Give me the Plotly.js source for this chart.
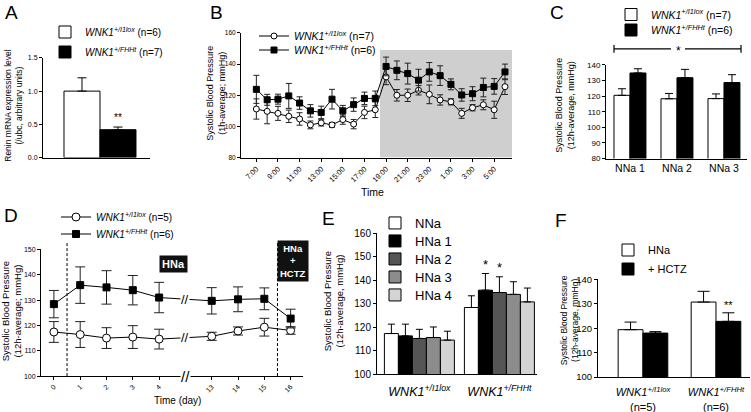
<!DOCTYPE html>
<html>
<head>
<meta charset="utf-8">
<script src="https://cdn.plot.ly/plotly-3.0.1.min.js"></script>
<style>html,body{margin:0;padding:0;background:#fff}#fig{width:751px;height:412px}</style>
</head>
<body>
<div id="fig"></div>
<script>
const W = 751, H = 412;
const FONT = 'Liberation Sans, Arial, sans-serif';

// A: renin mRNA (/ubc)
const reninFl = [1.0], reninFlErr = [0.2];
const reninFh = [0.42], reninFhErr = [0.04];

// B: 1h-average systolic BP over 24 h
const hours = ['7:00','8:00','9:00','10:00','11:00','12:00','13:00','14:00','15:00','16:00','17:00','18:00',
  '19:00','20:00','21:00','22:00','23:00','0:00','1:00','2:00','3:00','4:00','5:00','6:00'];
const hourTicks = ['7:00','9:00','11:00','13:00','15:00','17:00','19:00','21:00','23:00','1:00','3:00','5:00'];
const bFl = [111.2,109.7,108.4,106.5,104.8,101,102.3,101,104.4,101.5,109,110.7,131.8,120,120,123.2,120.6,117,115.8,108.4,112,113.9,110.7,125.5];
const bFlErr = [6.5,8,4.5,4,4,2.5,2,1.5,3,3,4,5,5,3.7,4,3,6,3.3,2,3.2,2,3.2,5.5,5];
const bFh = [123.8,117.1,117.5,119.6,115,110,109,117.5,110,114,118,118,138.5,136,133.9,129.7,135,132.6,127,120.2,121,125,125.7,135];
const bFhErr = [9,3.5,3.2,8,4,4,4,6.3,3.5,4.3,4,4.7,6,6,6.7,7,6,6.3,3.5,4,4.5,6,5,5];

// C: 12h-average, normal Na diet
const nnaDays = ['NNa 1','NNa 2','NNa 3'];
const cFl = [120.5,118.3,118.4], cFlErr = [4.2,3.4,3];
const cFh = [134.8,131.8,128.7], cFhErr = [2.7,5.3,5];

// D: time course on high Na, then HCTZ
const days = ['0','1','2','3','4','13','14','15','16'];
const dayAxis = ['0','1','2','3','4','gap','13','14','15','16'];
const dFl = [117.4,116.4,115,115.4,114.6,115.7,117.8,119.3,118];
const dFlErr = [4.1,5.1,4.1,4.5,3.9,1.6,1.6,3.5,1.5];
const dFh = [128.4,135.9,135,133.9,131,129.7,130.3,130.5,122.7];
const dFhErr = [5.4,7.2,6.6,5.8,6,5.2,4.9,4.3,3.7];

// E: NNa vs HNa 1-4, per genotype
const genotypes = ['<i>WNK1</i><sup><i>+/I1lox</i></sup>', '<i>WNK1</i><sup><i>+/FHHt</i></sup>'];
const diets = ['NNa','HNa 1','HNa 2','HNa 3','HNa 4'];
const dietColors = ['#ffffff','#000000','#555555','#8c8c8c','#d4d4d4'];
const eFl = [117.3,116.3,115.2,115.6,114.5], eFlErr = [4,5,3.9,4.5,3.8];
const eFh = [128.4,135.8,134.8,134,130.8], eFhErr = [5,7.1,6.7,5.4,5.9];

// F: HNa vs HNa + HCTZ
const fGroups = ['<i>WNK1</i><sup><i>+/I1lox</i></sup><br>(n=5)', '<i>WNK1</i><sup><i>+/FHHt</i></sup><br>(n=6)'];
const fHNa = [119.4,130.7], fHNaErr = [3.1,4.4];
const fHctz = [118,122.8], fHctzErr = [0.6,3.5];

const fx = x => x / W;
const fy = y => 1 - y / H;
const flName = n => `<i>WNK1</i><sup><i>+/I1lox</i></sup> (n=${n})`;
const fhName = n => `<i>WNK1</i><sup><i>+/FHHt</i></sup> (n=${n})`;

function bar(x, y, err, axn, color, width, offset, leg, name, cap) {
  return {
    type: 'bar', x: x, y: y, xaxis: 'x' + axn, yaxis: 'y' + axn,
    width: width, offset: offset, name: name, legend: leg,
    marker: {color: color, line: {color: '#000', width: 1}},
    error_y: {type: 'data', array: err, arrayminus: err.map(() => 0), symmetric: false,
      color: '#000', thickness: 1, width: cap},
    hoverinfo: 'skip'
  };
}

function line(x, y, err, axn, symbol, fill, size, leg, name, cap) {
  return {
    type: 'scatter', mode: 'lines+markers', x: x, y: y, xaxis: 'x' + axn, yaxis: 'y' + axn,
    name: name, legend: leg,
    line: {color: '#000', width: 1},
    marker: {symbol: symbol, size: size, color: fill, line: {color: '#000', width: 1}},
    error_y: {type: 'data', array: err, color: '#222', thickness: 1, width: cap},
    hoverinfo: 'skip'
  };
}

const traces = [
  bar([0], reninFl, reninFlErr, '', '#fff', 1, -1, 'legend', flName(6), 4.5),
  bar([0], reninFh, reninFhErr, '', '#000', 1, 0, 'legend2', fhName(7), 4.5),

  line(hours, bFl, bFlErr, '2', 'circle', '#fff', 6, 'legend3', flName(7), 3),
  line(hours, bFh, bFhErr, '2', 'square', '#000', 6, 'legend4', fhName(6), 3),

  bar(nnaDays, cFl, cFlErr, '3', '#fff', 0.34, -0.34, 'legend5', flName(7), 4),
  bar(nnaDays, cFh, cFhErr, '3', '#000', 0.34, 0, 'legend6', fhName(6), 4),

  line(days, dFl, dFlErr, '4', 'circle', '#fff', 8, 'legend7', flName(5), 5),
  line(days, dFh, dFhErr, '4', 'square', '#000', 7, 'legend8', fhName(6), 5)
];

const ew = 0.175;
diets.forEach((d, i) => {
  traces.push(bar(genotypes, [eFl[i], eFh[i]], [eFlErr[i], eFhErr[i]], '5', dietColors[i],
    ew, -2.5 * ew + i * ew, 'legend' + (9 + i), d, 3.5));
});

traces.push(bar(fGroups, fHNa, fHNaErr, '6', '#fff', 0.34, -0.34, 'legend14', 'HNa', 6));
traces.push(bar(fGroups, fHctz, fHctzErr, '6', '#000', 0.34, 0, 'legend15', '+ HCTZ', 6));

function ax(dom, extra) {
  return Object.assign({
    domain: dom, showline: true, linecolor: '#000', linewidth: 1,
    ticks: 'outside', ticklen: 3, tickwidth: 1, tickcolor: '#000',
    showgrid: false, zeroline: false, fixedrange: true,
    tickfont: {family: FONT, size: 7, color: '#000'}
  }, extra);
}

// symX: where the legend swatch should sit (the label follows ~20px to its right)
function legendAt(symX, ypx, size) {
  return {x: fx(symX - 24), y: fy(ypx), xanchor: 'left', yanchor: 'middle',
    bgcolor: 'rgba(0,0,0,0)', borderwidth: 0, itemclick: false, itemdoubleclick: false,
    font: {family: FONT, size: size, color: '#000'}};
}

function note(text, xpx, ypx, size, extra) {
  return Object.assign({text: text, xref: 'paper', yref: 'paper', x: fx(xpx), y: fy(ypx),
    showarrow: false, xanchor: 'center', yanchor: 'middle',
    font: {family: FONT, size: size, color: '#000'}}, extra || {});
}

function ytitle(text, xpx, ypx, size) {
  return note(text, xpx, ypx, size, {textangle: -90});
}

const annotations = [
  note('A', 11, 12, 19), note('B', 217, 12, 19), note('C', 557, 12, 19),
  note('D', 11, 215, 19), note('E', 328, 218, 19), note('F', 561, 220, 19),

  ytitle('Renin mRNA expression level<br>(/ubc, arbitrary units)', 14, 105, 8.5),
  ytitle('Systolic Blood Pressure<br>(1h-average; mmHg)', 216, 93, 9),
  ytitle('Systolic Blood Pressure<br>(12h-average, mmHg)', 565, 105, 9),
  ytitle('Systolic Blood Pressure<br>(12h-average; mmHg)', 11, 311, 9.5),
  ytitle('Systolic Blood Pressure<br>(12h-average, mmHg)', 333, 301, 9.5),
  ytitle('Systolic Blood Pressure<br>(12h-average, mmHg)', 569, 320, 8.5),

  note('Time', 372, 191, 10.5),
  note('Time (day)', 177, 400, 10),

  // significance marks
  {text: '**', xref: 'x', yref: 'y', x: 0.5, y: reninFh[0] + reninFhErr[0] + 0.03, yanchor: 'bottom',
    showarrow: false, font: {family: FONT, size: 10}},
  note('*', 678, 50, 12),
  {text: '*', xref: 'x5', yref: 'y5', x: 1 - ew, y: eFh[1] + eFhErr[1], yanchor: 'bottom',
    showarrow: false, font: {family: FONT, size: 13}},
  {text: '*', xref: 'x5', yref: 'y5', x: 1, y: eFh[2] + eFhErr[2], yanchor: 'bottom',
    showarrow: false, font: {family: FONT, size: 13}},
  {text: '**', xref: 'x6', yref: 'y6', x: 1 + 0.17, y: fHctz[1] + fHctzErr[1], yanchor: 'bottom',
    showarrow: false, font: {family: FONT, size: 11}},

  // diet boxes in D
  note('<b>HNa</b>', 173, 264, 11, {bgcolor: '#111', font: {family: FONT, size: 11, color: '#fff'}, borderpad: 2}),
  note('<b>HNa<br>+<br>HCTZ</b>', 293, 261, 9.5, {bgcolor: '#111', font: {family: FONT, size: 9.5, color: '#fff'}, borderpad: 2}),

  // axis break marks in D
  {text: '//', xref: 'x4', yref: 'y4', x: 5, y: (dFh[4] + dFh[5]) / 2, showarrow: false,
    bgcolor: '#fff', borderpad: 0, font: {family: FONT, size: 13}},
  {text: '//', xref: 'x4', yref: 'y4', x: 5, y: (dFl[4] + dFl[5]) / 2, showarrow: false,
    bgcolor: '#fff', borderpad: 0, font: {family: FONT, size: 13}},
  {text: '//', xref: 'x4', yref: 'y4', x: 5, y: 100, showarrow: false,
    bgcolor: '#fff', borderpad: 0, font: {family: FONT, size: 15}}
];

const bracket = {color: '#000', width: 1.2};
const shapes = [
  // dark period in B
  {type: 'rect', xref: 'x2', yref: 'y2', x0: 11.44, x1: 23.65, y0: 80, y1: 149,
    fillcolor: '#cfcfcf', line: {width: 0}, layer: 'below'},
  // bracket in C, open around the star
  {type: 'line', xref: 'paper', yref: 'paper', x0: fx(614), x1: fx(671), y0: fy(48), y1: fy(48), line: bracket},
  {type: 'line', xref: 'paper', yref: 'paper', x0: fx(685), x1: fx(741), y0: fy(48), y1: fy(48), line: bracket},
  {type: 'line', xref: 'paper', yref: 'paper', x0: fx(614), x1: fx(614), y0: fy(44), y1: fy(52), line: bracket},
  {type: 'line', xref: 'paper', yref: 'paper', x0: fx(741), x1: fx(741), y0: fy(44), y1: fy(52), line: bracket},
  // diet switches in D
  {type: 'line', xref: 'x4', yref: 'paper', x0: 0.5, x1: 0.5, y0: fy(376), y1: fy(242), line: {color: '#000', width: 1, dash: '3px,2px'}},
  {type: 'line', xref: 'x4', yref: 'paper', x0: 8.5, x1: 8.5, y0: fy(376), y1: fy(242), line: {color: '#000', width: 1, dash: '3px,2px'}}
];

const layout = {
  width: W, height: H, margin: {l: 0, r: 0, t: 0, b: 0},
  paper_bgcolor: '#fff', plot_bgcolor: 'rgba(0,0,0,0)',
  font: {family: FONT, color: '#000'},
  barmode: 'overlay', showlegend: true,

  xaxis: ax([fx(43), fx(150)], {anchor: 'y', range: [-1.583, 1.389], showticklabels: false, ticks: ''}),
  yaxis: ax([fy(157), fy(57)], {anchor: 'x', range: [0, 1.5], dtick: 0.5, tickformat: '.1f'}),

  xaxis2: ax([fx(241), fx(512)], {anchor: 'y2', type: 'category', range: [-1.42, 23.65],
    tickvals: hourTicks, tickangle: -45, tickfont: {family: FONT, size: 7.5, color: '#000'}}),
  yaxis2: ax([fy(157), fy(32)], {anchor: 'x2', range: [80, 160], dtick: 20, tickfont: {family: FONT, size: 6.5, color: '#000'}}),

  xaxis3: ax([fx(606), fx(747)], {anchor: 'y3', type: 'category', range: [-0.51, 2.49], ticks: '',
    tickfont: {family: FONT, size: 10.5, color: '#000'}}),
  yaxis3: ax([fy(158), fy(64)], {anchor: 'x3', range: [80, 140], dtick: 10,
    tickfont: {family: FONT, size: 8, color: '#000'}}),

  xaxis4: ax([fx(41), fx(303)], {anchor: 'y4', type: 'category', categoryorder: 'array',
    categoryarray: dayAxis, range: [-0.49, 9.47], tickvals: days, tickangle: -45}),
  yaxis4: ax([fy(376), fy(249)], {anchor: 'x4', range: [100, 150], dtick: 10}),

  xaxis5: ax([fx(377), fx(537)], {anchor: 'y5', type: 'category', range: [-0.53, 1.47], ticks: '',
    ticklabelstandoff: 6, tickfont: {family: FONT, size: 12.5, color: '#000'}}),
  yaxis5: ax([fy(374), fy(233)], {anchor: 'x5', range: [100, 160], dtick: 10,
    tickfont: {family: FONT, size: 10, color: '#000'}}),

  xaxis6: ax([fx(598), fx(750)], {anchor: 'y6', type: 'category', range: [-0.616, 1.466], ticks: '',
    ticklabelstandoff: 5, tickfont: {family: FONT, size: 11, color: '#000'}}),
  yaxis6: ax([fy(377), fy(279)], {anchor: 'x6', range: [100, 140], dtick: 10,
    tickfont: {family: FONT, size: 9.5, color: '#000'}}),

  legend: legendAt(69, 32, 10),
  legend2: legendAt(69, 52, 10),
  legend3: legendAt(278, 36, 10.5),
  legend4: legendAt(278, 50, 10.5),
  legend5: legendAt(635, 14, 10.5),
  legend6: legendAt(635, 30, 10.5),
  legend7: legendAt(80, 217, 10),
  legend8: legendAt(80, 234, 10),
  legend9: legendAt(399, 223, 13),
  legend10: legendAt(399, 241, 13),
  legend11: legendAt(399, 259, 13),
  legend12: legendAt(399, 277, 13),
  legend13: legendAt(399, 295, 13),
  legend14: legendAt(632, 250, 11),
  legend15: legendAt(632, 269, 11),

  annotations: annotations,
  shapes: shapes
};

Plotly.newPlot('fig', traces, layout, {staticPlot: true, displayModeBar: false});
</script>
</body>
</html>
